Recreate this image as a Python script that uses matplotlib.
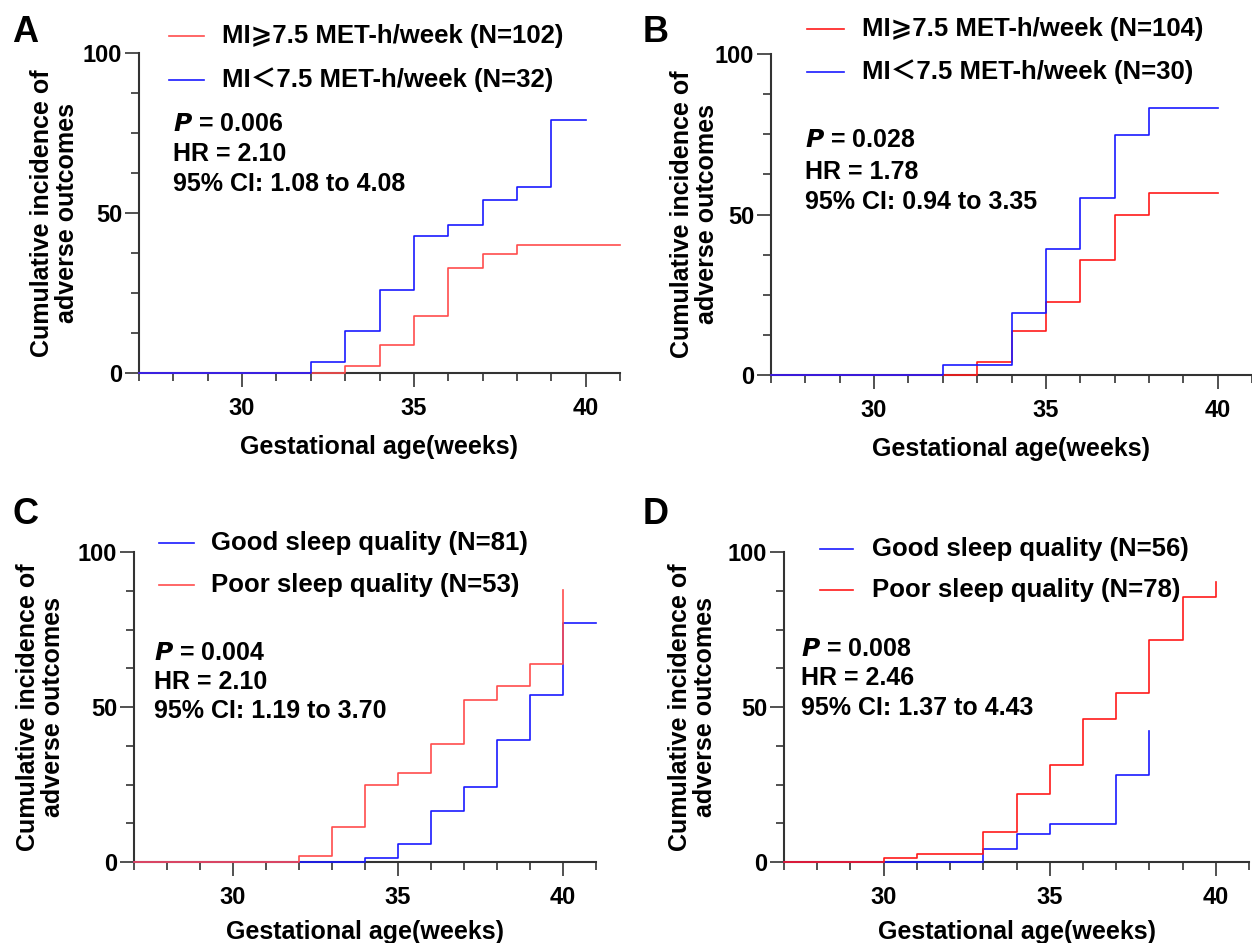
import matplotlib
matplotlib.use("Agg")
import matplotlib.pyplot as plt
from matplotlib.lines import Line2D
from matplotlib.ticker import MultipleLocator

plt.rcParams['font.family'] = ['Liberation Sans', 'Noto Sans CJK SC', 'DejaVu Sans']
plt.rcParams['font.weight'] = 'bold'

RED_LIGHT = '#ff4d4d'
RED = '#ff1a1a'
BLUE = '#1a1aff'

# Panel A: MI (N=102 vs N=32)
a_hi_t = [33, 34, 35, 36, 37, 38]
a_hi_v = [2.1, 8.6, 17.8, 32.8, 37.3, 39.9]
a_lo_t = [32, 33, 34, 35, 36, 37, 38, 39]
a_lo_v = [3.4, 13.0, 25.9, 42.7, 46.4, 54.1, 58.0, 79.1]

# Panel B: MI (N=104 vs N=30)
b_hi_t = [33, 34, 35, 36, 37, 38]
b_hi_v = [4.2, 13.6, 22.8, 35.9, 49.9, 56.7]
b_lo_t = [32, 34, 35, 36, 37, 38]
b_lo_v = [3.1, 19.3, 39.4, 55.2, 74.9, 83.1]

# Panel C: sleep quality (N=81 vs N=53)
c_good_t = [34, 35, 36, 37, 38, 39, 40]
c_good_v = [1.4, 5.9, 16.5, 24.2, 39.2, 54.0, 77.0]
c_poor_t = [32, 33, 34, 35, 36, 37, 38, 39, 40]
c_poor_v = [1.9, 11.3, 24.9, 28.8, 38.2, 52.4, 56.7, 63.8, 87.6]

# Panel D: sleep quality (N=56 vs N=78)
d_good_t = [33, 34, 35, 37, 38]
d_good_v = [4.1, 8.9, 12.3, 28.1, 42.4]
d_poor_t = [30, 31, 33, 34, 35, 36, 37, 38, 39, 40]
d_poor_v = [1.3, 2.6, 9.6, 22.0, 31.4, 46.1, 54.6, 71.7, 85.5, 90.3]

W, H = 1252, 943
fig = plt.figure(figsize=(W / 100, H / 100), dpi=100)


def px_axes(l, r, t, b):
    return fig.add_axes([l / W, 1 - b / H, (r - l) / W, (b - t) / H])


def curve(ax, t, v, end, color):
    xs = [27] + t + [end]
    ys = [0] + v + [v[-1]]
    ax.step(xs, ys, where='post', color=color, lw=1.2, clip_on=False, zorder=3)


def style(ax, ylab_x, xpad=11):
    ax.set_xlim(27, 41)
    ax.set_ylim(0, 100)
    for s in ['top', 'right']:
        ax.spines[s].set_visible(False)
    for s in ['left', 'bottom']:
        ax.spines[s].set_linewidth(1.5)
        ax.spines[s].set_color('#333333')
    ax.xaxis.set_major_locator(MultipleLocator(5))
    ax.xaxis.set_minor_locator(MultipleLocator(1))
    ax.yaxis.set_major_locator(MultipleLocator(50))
    ax.yaxis.set_minor_locator(MultipleLocator(12.5))
    ax.set_xticks([30, 35, 40])
    ax.tick_params(which='major', length=10, width=1.2, color='#333333', labelsize=17)
    ax.tick_params(which='minor', length=5.5, width=1.2, color='#333333')
    ax.tick_params(axis='x', which='major', pad=7)
    ax.tick_params(axis='y', which='major', pad=2)
    ax.set_xlabel('Gestational age(weeks)', fontsize=18, fontweight='bold', labelpad=xpad)
    ax.set_ylabel('Cumulative incidence of\nadverse outcomes', fontsize=18,
                  fontweight='bold', linespacing=1.05)
    ax.yaxis.set_label_coords(ylab_x, 0.5)


def legend(items, x0, x1, xt, ys):
    for (label, color), y in zip(items, ys):
        fig.add_artist(Line2D([x0 / W, x1 / W], [1 - y / H, 1 - y / H],
                              color=color, lw=1.2, transform=fig.transFigure))
        fig.text(xt / W, 1 - y / H, label, fontsize=18.5, fontweight='bold',
                 va='center', ha='left')


def stats(lines, x, ys):
    for s, y in zip(lines, ys):
        fig.text(x / W, 1 - y / H, s, fontsize=18, fontweight='bold',
                 va='center', ha='left')


# A
axA = px_axes(139, 620, 53, 373)
curve(axA, a_hi_t, a_hi_v, 41, RED_LIGHT)
curve(axA, a_lo_t, a_lo_v, 40, BLUE)
style(axA, -0.125)
legend([('MI⩾7.5 MET-h/week (N=102)', RED_LIGHT), ('MI＜7.5 MET-h/week (N=32)', BLUE)],
       169, 204, 222, [36, 80])
stats([r'$\bf{\it{P}}$ = 0.006', 'HR = 2.10', '95% CI: 1.08 to 4.08'], 173, [124, 154, 184])

# B
axB = px_axes(771, 1252, 54, 375)
curve(axB, b_hi_t, b_hi_v, 40, RED)
curve(axB, b_lo_t, b_lo_v, 40, BLUE)
style(axB, -0.108)
legend([('MI⩾7.5 MET-h/week (N=104)', RED), ('MI＜7.5 MET-h/week (N=30)', BLUE)],
       807, 844, 862, [29, 72])
stats([r'$\bf{\it{P}}$ = 0.028', 'HR = 1.78', '95% CI: 0.94 to 3.35'], 805, [140, 172, 202])

# C
axC = px_axes(134, 596, 552, 862)
curve(axC, c_good_t, c_good_v, 41, BLUE)
curve(axC, c_poor_t, c_poor_v, 40, RED_LIGHT)
style(axC, -0.149, xpad=8)
legend([('Good sleep quality (N=81)', BLUE), ('Poor sleep quality (N=53)', RED_LIGHT)],
       159, 194, 211, [543, 585])
stats([r'$\bf{\it{P}}$ = 0.004', 'HR = 2.10', '95% CI: 1.19 to 3.70'], 154, [653, 682, 711])

# D
axD = px_axes(784, 1249, 552, 862)
curve(axD, d_good_t, d_good_v, 38, BLUE)
curve(axD, d_poor_t, d_poor_v, 40, RED)
style(axD, -0.144, xpad=8)
legend([('Good sleep quality (N=56)', BLUE), ('Poor sleep quality (N=78)', RED)],
       820, 853, 872, [549, 590])
stats([r'$\bf{\it{P}}$ = 0.008', 'HR = 2.46', '95% CI: 1.37 to 4.43'], 801, [649, 678, 708])

# panel letters
for letter, x, y in [('A', 25, 32), ('B', 656, 32), ('C', 25, 515), ('D', 656, 515)]:
    fig.text(x / W, 1 - y / H, letter, fontsize=26, fontweight='bold', ha='center', va='center')

fig.savefig('out.png', dpi=100)
